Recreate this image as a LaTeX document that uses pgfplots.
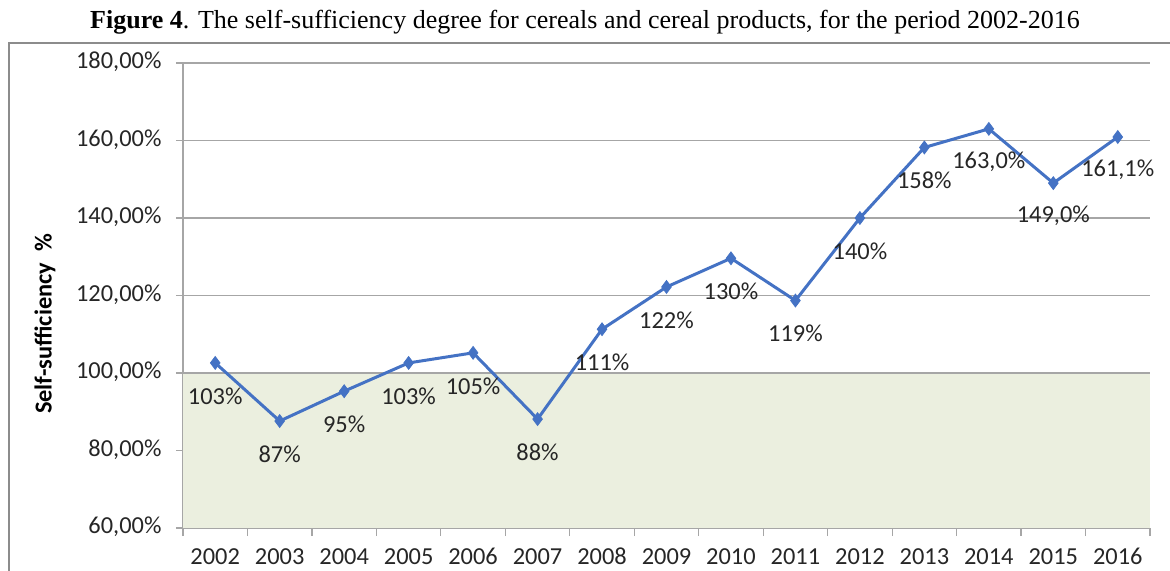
\documentclass[border=0pt]{standalone}
\usepackage{pgfplots}
\usepackage{pgfplotstable}
\pgfplotsset{compat=1.18}
\usepackage{fontspec}
\setmainfont{Carlito}
\newfontfamily\titlefont{Liberation Serif}
\definecolor{lineblue}{HTML}{4472C4}
\definecolor{shadegreen}{HTML}{EBEFDF}
\definecolor{gridgray}{HTML}{A6A6A6}
\definecolor{framegray}{HTML}{8C8C8C}
\definecolor{txt}{HTML}{262626}

\pgfplotstableread{
x y lab
0 102.6 103
1 87.6 87
2 95.3 95
3 102.6 103
4 105.2 105
5 88.1 88
6 111.3 111
7 122.2 122
8 129.6 130
9 118.7 119
10 140.0 140
11 158.2 158
12 163.0 163,0
13 149.0 149,0
14 160.9 161,1
}\datatable

\begin{document}
\begin{tikzpicture}
\fontsize{12.2}{14}\selectfont
\begin{axis}[
  at={(0,0)}, anchor=south west,
  scale only axis,
  width=483.5pt, height=232.5pt,
  xmin=-0.5, xmax=14.5,
  ymin=60, ymax=180,
  ytick={60,80,...,180},
  yticklabels={{60,00\%},{80,00\%},{100,00\%},{120,00\%},{140,00\%},{160,00\%},{180,00\%}},
  xtick={0,...,14},
  xticklabels={2002,2003,2004,2005,2006,2007,2008,2009,2010,2011,2012,2013,2014,2015,2016},
  minor xtick={-0.5,0.5,...,14.5},
  major x tick style={draw=none},
  minor x tick style={gridgray, line width=0.6pt},
  major y tick style={gridgray, line width=0.6pt},
  tick align=outside,
  major tick length=3.5pt,
  minor tick length=4pt,
  axis x line*=bottom,
  axis y line*=left,
  axis line style={gridgray, line width=0.6pt},
  ymajorgrids,
  major grid style={gridgray, line width=0.6pt},
  typeset ticklabels with strut,
  ticklabel style={font=\fontsize{12.2}{14}\selectfont, text=txt},
  yticklabel style={xshift=-3pt},
  xticklabel style={yshift=-0.5pt},
  clip=false,
]
\fill[shadegreen] (axis cs:-0.5,60) rectangle (axis cs:14.5,100);
\draw[gridgray, line width=0.6pt] (axis cs:-0.5,100) -- (axis cs:14.5,100);
\addplot[lineblue, line width=1.5pt, mark=diamond*, mark size=3.2pt,
  mark options={solid, fill=lineblue, line width=0.4pt},
  point meta=explicit symbolic,
  nodes near coords={\pgfplotspointmeta\%},
  nodes near coords align={anchor=center},
  every node near coord/.append style={yshift=-16.5pt, text=txt, font=\fontsize{12.2}{14}\selectfont, inner sep=0pt},
] table[x=x, y=y, meta=lab] {\datatable};
\end{axis}
\draw[framegray, line width=0.6pt] (-87pt,-30pt) -- (-87pt,242.5pt) -- (500pt,242.5pt);
\node[rotate=90, font=\bfseries\fontsize{12.2}{14}\selectfont, text=black] at (-69pt,102pt) {Self-sufficiency\ \ \%};
\node[font=\titlefont\fontsize{13}{15}\selectfont, text=black] at (201pt,253pt) {\textbf{Figure 4}. The self-sufficiency degree for cereals and cereal products, for the period 2002-2016};
\pgfresetboundingbox
\useasboundingbox (-91.5pt,-21.5pt) rectangle (493.5pt,264pt);
\end{tikzpicture}
\end{document}
